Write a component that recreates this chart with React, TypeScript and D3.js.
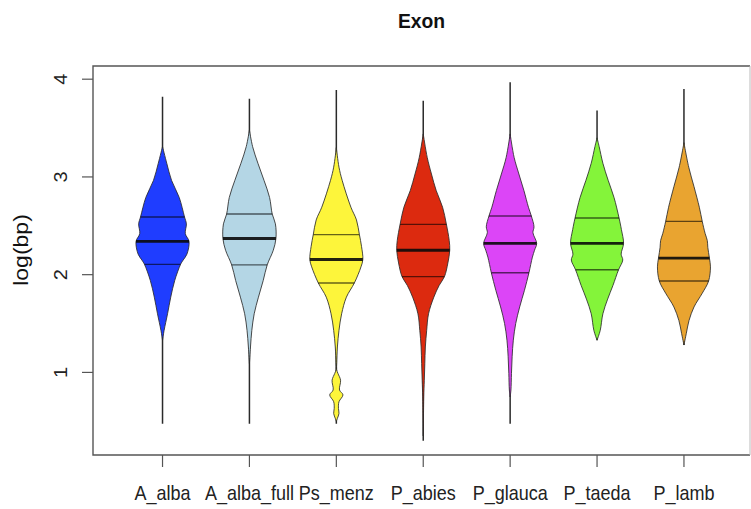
import React from 'react';
import * as d3 from 'd3';

// categories and summary stats (log10 of length in bp)
const categories = ['A_alba', 'A_alba_full', 'Ps_menz', 'P_abies', 'P_glauca', 'P_taeda', 'P_lamb'];
const mins = [0.475, 0.475, 0.475, 0.3, 0.475, 1.33, 1.28];
const q1s = [2.105, 2.1, 1.915, 1.98, 2.02, 2.05, 1.935];
const medians = [2.34, 2.37, 2.155, 2.25, 2.32, 2.32, 2.17];
const q3s = [2.59, 2.62, 2.41, 2.515, 2.6, 2.58, 2.545];
const maxs = [3.82, 3.8, 3.89, 3.78, 3.97, 3.68, 3.9];
const yTicks = [1, 2, 3, 4];

// density profiles: [value, relative half width]
const aAlbaDensity = [
  [1.33, 0], [1.43, 0.06], [1.6, 0.19], [1.77, 0.31], [1.94, 0.46], [2.105, 0.68], [2.15, 0.78],
  [2.21, 0.92], [2.34, 1.0], [2.42, 0.86], [2.52, 0.9], [2.59, 0.83], [2.79, 0.63], [2.965, 0.34],
  [3.14, 0.16], [3.31, 0],
];
const aAlbaFullDensity = [
  [1.09, 0], [1.26, 0.04], [1.43, 0.09], [1.6, 0.18], [1.77, 0.34], [1.94, 0.52], [2.1, 0.67],
  [2.25, 0.9], [2.37, 1.0], [2.52, 0.98], [2.62, 0.86], [2.79, 0.76], [2.965, 0.55], [3.14, 0.32],
  [3.31, 0.12], [3.48, 0],
];
const psMenzDensity = [
  [0.5, 0], [0.53, 0.04], [0.58, 0.1], [0.63, 0.08], [0.7, 0.1], [0.77, 0.25], [0.82, 0.12],
  [0.92, 0.16], [0.99, 0.06], [1.03, 0.01], [1.1, 0.015], [1.26, 0.04], [1.43, 0.1], [1.6, 0.2],
  [1.77, 0.38], [1.915, 0.68], [2.08, 0.93], [2.155, 1.0], [2.29, 0.95], [2.41, 0.87],
  [2.56, 0.76], [2.69, 0.55], [2.965, 0.22], [3.1, 0.1], [3.3, 0],
];
const pAbiesDensity = [
  [0.35, 0], [0.75, 0.02], [0.92, 0.04], [1.09, 0.06], [1.26, 0.08], [1.43, 0.13], [1.6, 0.2],
  [1.77, 0.4], [1.89, 0.6], [1.98, 0.8], [2.12, 0.93], [2.25, 1.0], [2.35, 0.98], [2.52, 0.87],
  [2.69, 0.73], [2.86, 0.49], [3.03, 0.31], [3.2, 0.15], [3.44, 0],
];
const pGlaucaDensity = [
  [0.75, 0], [0.82, 0.03], [0.99, 0.05], [1.16, 0.075], [1.33, 0.12], [1.5, 0.21], [1.67, 0.36],
  [1.84, 0.54], [2.02, 0.71], [2.18, 0.84], [2.25, 0.92], [2.32, 1.0], [2.43, 0.86], [2.49, 0.9],
  [2.6, 0.8], [2.69, 0.69], [2.86, 0.52], [3.03, 0.33], [3.2, 0.15], [3.44, 0],
];
const pTaedaDensity = [
  [1.33, 0], [1.43, 0.12], [1.6, 0.22], [1.75, 0.4], [1.89, 0.6], [2.05, 0.81], [2.15, 0.97],
  [2.21, 0.91], [2.32, 1.0], [2.46, 0.92], [2.58, 0.83], [2.79, 0.64], [2.965, 0.42], [3.14, 0.22],
  [3.31, 0.08], [3.4, 0],
];
const pLambDensity = [
  [1.28, 0], [1.4, 0.09], [1.53, 0.19], [1.67, 0.38], [1.81, 0.69], [1.935, 0.93], [2.08, 1.0],
  [2.17, 0.96], [2.28, 0.9], [2.35, 0.88], [2.42, 0.8], [2.545, 0.69], [2.69, 0.58], [2.9, 0.38],
  [3.1, 0.18], [3.35, 0],
];
const densities = [
  aAlbaDensity, aAlbaFullDensity, psMenzDensity, pAbiesDensity,
  pGlaucaDensity, pTaedaDensity, pLambDensity,
];

const fills = ['#1f3dff', '#b4d6e5', '#fdf53b', '#dc2a0f', '#dc45f7', '#84f43a', '#e9a430'];

const W = 751;
const H = 509;
const box = { left: 93, right: 750, top: 66, bottom: 455 };

export default function App() {
  const x = d3.scaleLinear().domain([0.2, 7.76]).range([box.left, box.right]);
  const y = d3.scaleLinear().domain([0.155, 4.135]).range([box.bottom, box.top]);
  const half = x(1.305) - x(1);
  const midX = (box.left + box.right) / 2;

  const violins = categories.map((name, i) => {
    const cx = x(i + 1);
    const prof = densities[i];
    const widthAt = d3.scaleLinear()
      .domain(prof.map(d => d[0]))
      .range(prof.map(d => d[1]))
      .clamp(true);
    const area = d3.area<number[]>()
      .curve(d3.curveCatmullRom.alpha(0.5))
      .y(d => y(d[0]))
      .x0(d => cx - d[1] * half)
      .x1(d => cx + d[1] * half);
    const seg = (v: number) => [cx - widthAt(v) * half, cx + widthAt(v) * half];
    return { name, cx, path: area(prof as number[][]) || '', seg, i };
  });

  return (
    <svg width={W} height={H} style={{ position: 'absolute', left: 0, top: 0, background: '#fff' }}
      fontFamily="'Liberation Sans', Arial, sans-serif">
      <text x={midX} y={28} textAnchor="middle" fontSize={21}
        fontWeight="bold" fill="#111"
        transform={`translate(${midX},0) scale(0.92,1) translate(${-midX},0)`}>
        Exon
      </text>

      {violins.map(v => (
        <g key={v.name}>
          <line x1={v.cx} x2={v.cx} y1={y(mins[v.i])} y2={y(maxs[v.i])} stroke="#2a2a2a" strokeWidth={1.5} />
          <path d={v.path} fill={fills[v.i]} stroke="#2b2b2b" strokeWidth={1} strokeOpacity={0.85} />
          {[q1s[v.i], q3s[v.i]].map((q, k) => {
            const [a, b] = v.seg(q);
            return <line key={k} x1={a} x2={b} y1={y(q)} y2={y(q)} stroke="#000" strokeOpacity={0.6} strokeWidth={1.4} />;
          })}
          {(() => {
            const [a, b] = v.seg(medians[v.i]);
            return <line x1={a} x2={b} y1={y(medians[v.i])} y2={y(medians[v.i])} stroke="#0a0a0a" strokeOpacity={0.9} strokeWidth={2.8} />;
          })()}
        </g>
      ))}

      <path d={`M${box.right},${box.top}H${box.left}V${box.bottom}H${box.right}`} fill="none" stroke="#555" strokeWidth={1.4} />
      <line x1={box.right} x2={box.right} y1={box.top} y2={box.bottom} stroke="#bbb" strokeWidth={1} />

      {yTicks.map(t => (
        <g key={t}>
          <line x1={box.left - 11} x2={box.left} y1={y(t)} y2={y(t)} stroke="#555" strokeWidth={1.2} />
          <text transform={`translate(67,${y(t)}) rotate(-90) scale(1,0.9)`} textAnchor="middle" fontSize={20} fill="#222">
            {t}
          </text>
        </g>
      ))}
      <text transform="translate(28,250) rotate(-90) scale(1,0.9)" textAnchor="middle" fontSize={23} fill="#111">
        log(bp)
      </text>

      {categories.map((c, i) => (
        <g key={c}>
          <line x1={x(i + 1)} x2={x(i + 1)} y1={box.bottom} y2={box.bottom + 12} stroke="#555" strokeWidth={1.2} />
          <text transform={`translate(${x(i + 1)},500) scale(0.9,1)`} textAnchor="middle" fontSize={20} fill="#222">
            {c}
          </text>
        </g>
      ))}
    </svg>
  );
}
